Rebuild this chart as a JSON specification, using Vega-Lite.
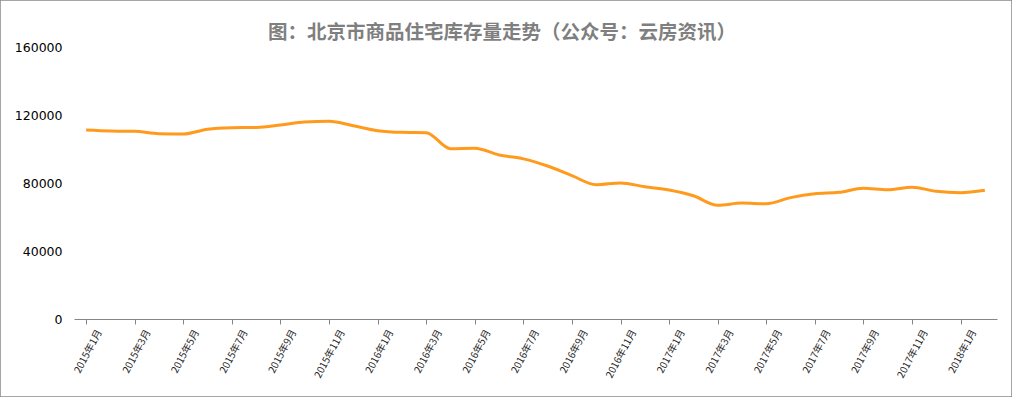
{
  "$schema": "https://vega.github.io/schema/vega-lite/v6.json",
  "width": 1012,
  "height": 397,
  "autosize": "none",
  "padding": 0,
  "background": "white",
  "config": {
    "view": {"stroke": "#898989", "strokeWidth": 1.5}
  },
  "title": {
    "text": "图：北京市商品住宅库存量走势（公众号：云房资讯）",
    "font": "Noto Sans CJK SC",
    "fontSize": 19.5,
    "fontWeight": "bold",
    "color": "#7f7f7f",
    "anchor": "middle",
    "frame": "group",
    "baseline": "bottom",
    "offset": -41,
    "dy": 21,
    "dx": -4
  },
  "data": {
    "values": [
      {"月份": "2015年1月", "库存量": 111200},
      {"月份": "2015年2月", "库存量": 110600},
      {"月份": "2015年3月", "库存量": 110400},
      {"月份": "2015年4月", "库存量": 109000},
      {"月份": "2015年5月", "库存量": 108800},
      {"月份": "2015年6月", "库存量": 111600},
      {"月份": "2015年7月", "库存量": 112500},
      {"月份": "2015年8月", "库存量": 112700},
      {"月份": "2015年9月", "库存量": 114100},
      {"月份": "2015年10月", "库存量": 115900},
      {"月份": "2015年11月", "库存量": 116300},
      {"月份": "2015年12月", "库存量": 113700},
      {"月份": "2016年1月", "库存量": 110800},
      {"月份": "2016年2月", "库存量": 109800},
      {"月份": "2016年3月", "库存量": 109600},
      {"月份": "2016年4月", "库存量": 100200},
      {"月份": "2016年5月", "库存量": 100400},
      {"月份": "2016年6月", "库存量": 96500},
      {"月份": "2016年7月", "库存量": 94200},
      {"月份": "2016年8月", "库存量": 90000},
      {"月份": "2016年9月", "库存量": 84300},
      {"月份": "2016年10月", "库存量": 79000},
      {"月份": "2016年11月", "库存量": 80000},
      {"月份": "2016年12月", "库存量": 77800},
      {"月份": "2017年1月", "库存量": 75900},
      {"月份": "2017年2月", "库存量": 72500},
      {"月份": "2017年3月", "库存量": 66900},
      {"月份": "2017年4月", "库存量": 68200},
      {"月份": "2017年5月", "库存量": 67800},
      {"月份": "2017年6月", "库存量": 71400},
      {"月份": "2017年7月", "库存量": 73700},
      {"月份": "2017年8月", "库存量": 74500},
      {"月份": "2017年9月", "库存量": 76900},
      {"月份": "2017年10月", "库存量": 76100},
      {"月份": "2017年11月", "库存量": 77500},
      {"月份": "2017年12月", "库存量": 75100},
      {"月份": "2018年1月", "库存量": 74300},
      {"月份": "2018年2月", "库存量": 75700}
    ]
  },
  "mark": {"type": "line", "color": "#ff9a1c", "strokeWidth": 3, "interpolate": "monotone"},
  "encoding": {
    "x": {
      "field": "月份",
      "type": "ordinal",
      "sort": null,
      "scale": {"range": [74, 997], "paddingInner": 0, "paddingOuter": 0},
      "axis": {
        "title": null,
        "orient": "bottom",
        "offset": -78,
        "values": ["2015年1月","2015年3月","2015年5月","2015年7月","2015年9月","2015年11月","2016年1月","2016年3月","2016年5月","2016年7月","2016年9月","2016年11月","2017年1月","2017年3月","2017年5月","2017年7月","2017年9月","2017年11月","2018年1月"],
        "bandPosition": 0,
        "labelOffset": 13,
        "labelAngle": -62,
        "labelAlign": "right",
        "labelBaseline": "middle",
        "labelFont": "Noto Sans CJK SC",
        "labelFontSize": 10,
        "labelColor": "#262626",
        "labelPadding": 6,
        "domainColor": "#868686",
        "tickColor": "#868686",
        "tickSize": 5,
        "grid": false
      }
    },
    "y": {
      "field": "库存量",
      "type": "quantitative",
      "scale": {"domain": [0, 160000], "range": [319, 47], "nice": false},
      "axis": {
        "title": null,
        "orient": "left",
        "offset": -74,
        "values": [0, 40000, 80000, 120000, 160000],
        "format": "d",
        "domain": false,
        "ticks": false,
        "grid": false,
        "labelPadding": 12,
        "labelFont": "DejaVu Sans",
        "labelFontSize": 12.5,
        "labelColor": "#000000"
      }
    }
  }
}
